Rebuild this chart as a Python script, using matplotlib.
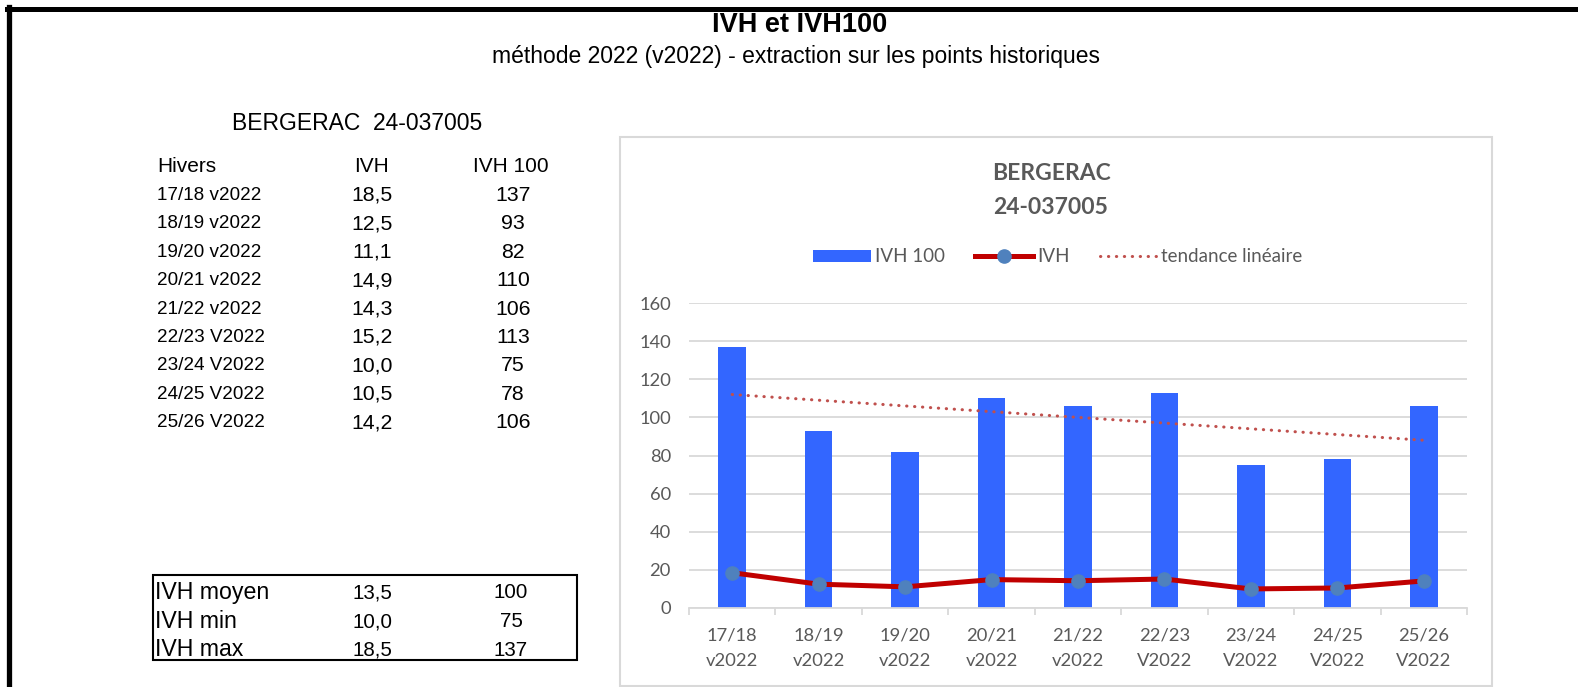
import numpy as np
import matplotlib
matplotlib.use("Agg")
import matplotlib.pyplot as plt
from matplotlib.patches import Rectangle, Patch
from matplotlib.lines import Line2D

# ---------------- data ----------------
winters = ["17/18 v2022", "18/19 v2022", "19/20 v2022", "20/21 v2022", "21/22 v2022",
           "22/23 V2022", "23/24 V2022", "24/25 V2022", "25/26 V2022"]
ivh = [18.5, 12.5, 11.1, 14.9, 14.3, 15.2, 10.0, 10.5, 14.2]
ivh100 = [137, 93, 82, 110, 106, 113, 75, 78, 106]
ivh_labels = ["18,5", "12,5", "11,1", "14,9", "14,3", "15,2", "10,0", "10,5", "14,2"]
summary_names = ["IVH moyen", "IVH min", "IVH max"]
summary_ivh = ["13,5", "10,0", "18,5"]
summary_ivh100 = ["100", "75", "137"]
yticks = [0, 20, 40, 60, 80, 100, 120, 140, 160]

W, H = 1578, 687
fig = plt.figure(figsize=(W / 100, H / 100), dpi=100)

def fx(x):
    return x / W

def fy(y):
    return 1 - y / H

SANS = "Liberation Sans"
CAL = "Lato"
GRAY = "#595959"

# outer border (top and left)
fig.add_artist(Line2D([fx(7), 1], [fy(9), fy(9)], color="black", lw=3.6,
                      transform=fig.transFigure, zorder=1))
fig.add_artist(Line2D([fx(9), fx(9)], [fy(7), 0], color="black", lw=3.8,
                      transform=fig.transFigure, zorder=1))

# titles
fig.text(fx(800), fy(32), "IVH et IVH100", ha="center", va="baseline",
         fontsize=19.5, fontweight="bold", family=SANS, zorder=5)
fig.text(fx(796), fy(57), "méthode 2022 (v2022) - extraction sur les points historiques",
         ha="center", va="center", fontsize=16.5, family=SANS)
fig.text(fx(232), fy(123), "BERGERAC  24-037005", ha="left", va="center",
         fontsize=16.5, family=SANS)

# table
row_y0, row_dy = 167, 28.4
fig.text(fx(157), fy(row_y0), "Hivers", ha="left", va="center", fontsize=15, family=SANS)
fig.text(fx(372), fy(row_y0), "IVH", ha="center", va="center", fontsize=15, family=SANS)
fig.text(fx(511), fy(row_y0), "IVH 100", ha="center", va="center", fontsize=15, family=SANS)
for i, (w, a, b) in enumerate(zip(winters, ivh_labels, ivh100)):
    y = row_y0 + (i + 1) * row_dy
    fig.text(fx(157), fy(y), w, ha="left", va="center", fontsize=13.6, family=SANS)
    fig.text(fx(372), fy(y), a, ha="center", va="center", fontsize=15.3, family=SANS)
    fig.text(fx(513), fy(y), str(b), ha="center", va="center", fontsize=15.3, family=SANS)

# summary box
fig.add_artist(Rectangle((fx(153), fy(660)), fx(577) - fx(153), fy(575) - fy(660),
                         transform=fig.transFigure, fill=False, edgecolor="black", lw=1.5))
for i, (n, a, b) in enumerate(zip(summary_names, summary_ivh, summary_ivh100)):
    y = 593 + i * 28.5
    fig.text(fx(155), fy(y), n, ha="left", va="center", fontsize=16.7, family=SANS)
    fig.text(fx(372), fy(y), a, ha="center", va="center", fontsize=14.8, family=SANS)
    fig.text(fx(511), fy(y), b, ha="center", va="center", fontsize=14.8, family=SANS)

# chart frame
fig.add_artist(Rectangle((fx(620), fy(686)), fx(1492) - fx(620), fy(137) - fy(686),
                         transform=fig.transFigure, fill=False, edgecolor="#D9D9D9", lw=1.5))
fig.text(fx(1051), fy(174), "BERGERAC", ha="center", va="center", fontsize=16.5,
         fontweight="bold", color=GRAY, family=CAL)
fig.text(fx(1051), fy(208), "24-037005", ha="center", va="center", fontsize=16.5,
         fontweight="bold", color=GRAY, family=CAL)

# plot axes
ax_l, ax_r, ax_t, ax_b = 689, 1467, 303, 608
ax = fig.add_axes([fx(ax_l), fy(ax_b), fx(ax_r) - fx(ax_l), fy(ax_t) - fy(ax_b)])
x = np.arange(len(winters))
ax.bar(x, ivh100, width=0.32, color="#3366FF", zorder=2)
ax.plot(x, ivh, color="#C00000", lw=3.6, marker="o", markersize=9.5,
        markerfacecolor="#4F81BD", markeredgecolor="#4F81BD", zorder=4,
        solid_capstyle="round")
coef = np.polyfit(x, ivh100, 1)
trend = np.polyval(coef, x)
ax.plot(x, trend, color="#C0504D", lw=2.2, linestyle=(0, (0.1, 2.5)),
        dash_capstyle="round", zorder=3)

ax.set_xlim(-0.5, len(winters) - 0.5)
ax.set_ylim(0, 160)
ax.set_yticks(yticks)
ax.yaxis.grid(True, color="#D9D9D9", lw=1.3, zorder=0)
ax.set_axisbelow(True)
for s in ["top", "right", "left"]:
    ax.spines[s].set_visible(False)
ax.spines["bottom"].set_color("#D9D9D9")
ax.spines["bottom"].set_linewidth(1.3)
ax.tick_params(axis="y", length=0, pad=13, labelsize=13.2, labelcolor=GRAY)
for lab in ax.get_yticklabels():
    lab.set_family(CAL)
ax.set_xticks(np.arange(-0.5, len(winters), 1.0))
ax.set_xticklabels([])
ax.tick_params(axis="x", which="major", length=5, color="#D9D9D9", width=1.3)
ax.set_xticks(x, minor=True)
ax.set_xticklabels([w.replace(" ", "\n") for w in winters], minor=True,
                   fontsize=13.2, color=GRAY, family=CAL, linespacing=1.7)
ax.tick_params(axis="x", which="minor", length=0, pad=14)

# legend
handles = [Patch(facecolor="#3366FF", edgecolor="none"),
           Line2D([], [], color="#C00000", lw=3.6, marker="o", markersize=9.5,
                  markerfacecolor="#4F81BD", markeredgecolor="#4F81BD"),
           Line2D([], [], color="#C0504D", lw=2.2, linestyle=(0, (0.1, 2.5)),
                  dash_capstyle="round")]
leg = fig.legend(handles, ["IVH 100", "IVH", "tendance linéaire"], ncol=3,
                 loc="center", bbox_to_anchor=(fx(1058), fy(257)), frameon=False,
                 prop={"family": CAL, "size": 13.5}, labelcolor=GRAY,
                 handlelength=3.1, handleheight=0.65, handletextpad=0.2,
                 columnspacing=1.6)

fig.savefig("out.png", dpi=100)
